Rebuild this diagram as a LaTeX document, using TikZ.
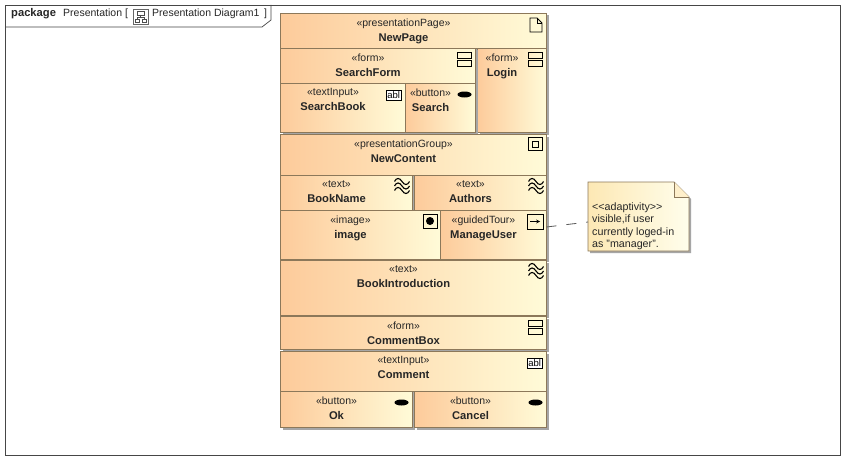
\documentclass[tikz,border=0pt]{standalone}
\usepackage{fontspec}
\setmainfont{Liberation Sans}
\usetikzlibrary{shapes,positioning,shadows,calc}
\definecolor{boxleft}{RGB}{253, 203, 155}
\definecolor{boxright}{RGB}{255, 251, 216}
\definecolor{noteleft}{RGB}{253, 232, 180}
\definecolor{noteright}{RGB}{255, 254, 236}
\definecolor{boxline}{RGB}{140, 120, 90}
\definecolor{frameline}{RGB}{70, 70, 70}
\tikzstyle{pagebox} = [
    rectangle,
    anchor=north west,
    outer sep=0pt,
    draw=boxline,
    line width=0.8pt,
    left color=boxleft,
    right color=boxright,
    drop shadow={shadow xshift=2pt,shadow yshift=-2pt,fill=black!35,opacity=1}
]
\tikzstyle{boxlabel} = [
    anchor=north,
    align=center,
    inner sep=0pt,
    font=\fontsize{10.5}{15}\selectfont,
    text=black!85
]
\tikzstyle{tabtext} = [
    anchor=west,
    inner sep=0pt,
    font=\fontsize{10.5}{12}\selectfont,
    text=black!85
]
\tikzstyle{icon} = [
    draw=black,
    line width=0.8pt
]
\newcommand{\umlbox}[7]{
    \node[pagebox, minimum width=#4pt, minimum height=#5pt] (#1) at (#2-0.5,#3-0.5) {};
    \node[boxlabel] (#1Label) at ([xshift=-10pt,yshift=-5pt]#1.north) {«#6»\\\fontsize{11.2}{15}\selectfont\textbf{#7}};
}
\newcommand{\formicon}[1]{
    \begin{scope}[shift={(#1.north east)}]
        \draw[icon] (-18,4) rectangle (-4,10);
        \draw[icon] (-18,12) rectangle (-4,18);
    \end{scope}
}
\newcommand{\inputicon}[1]{
    \begin{scope}[shift={(#1.north east)}]
        \node[icon, fill=white, anchor=north east, inner sep=0pt, minimum width=15pt, minimum height=10pt, font=\fontsize{9.5}{9}\selectfont] (#1Icon) at (-4,6) {abl};
    \end{scope}
}
\newcommand{\buttonicon}[1]{
    \begin{scope}[shift={(#1.north east)}]
        \fill[black] (-11,11) ellipse (7pt and 3pt);
    \end{scope}
}
\newcommand{\texticon}[1]{
    \begin{scope}[shift={(#1.north east)}]
        \foreach \wavey in {6,10.5,15} {
            \draw[black, line width=1.1pt] (-18,\wavey) .. controls (-16,\wavey-4) and (-13,\wavey-4) .. (-10.5,\wavey) .. controls (-8,\wavey+4) and (-5,\wavey+4) .. (-3,\wavey);
        }
    \end{scope}
}
\begin{document}
\begin{tikzpicture}[x=1pt,y=-1pt]
    \useasboundingbox (0,0) rectangle (845,460);
    \fill[white] (0,0) rectangle (845,460);

    % frame and tab
    \node[draw=frameline, line width=0.7pt, anchor=north west, outer sep=0pt, minimum width=835pt, minimum height=450pt] (frame) at (5,5) {};
    \coordinate (tabBottom) at (5,27);
    \coordinate (tabTop) at (271,5);
    \draw[frameline, line width=0.7pt] (tabBottom) -- (262,27) -- (271,20) -- (tabTop);
    \node[tabtext, font=\fontsize{11.2}{12}\selectfont] (tabPackage) at (11,14) {\textbf{package}};
    \node[tabtext] (tabName) at (63,14) {Presentation [};
    \node[tabtext] (tabDiagram) at (152,14) {Presentation Diagram1 };
    \node[tabtext] (tabClose) at (264,14) {]};
    \node[draw=black!60, line width=0.6pt, minimum width=15pt, minimum height=15pt, inner sep=0pt, anchor=north west] (tabIcon) at (133,9) {};
    \draw[black!70, line width=0.6pt] (137,11) rectangle (144,15);
    \draw[black!70, line width=0.6pt] (135,19) rectangle (139,22);
    \draw[black!70, line width=0.6pt] (142,19) rectangle (146,22);
    \draw[black!70, line width=0.6pt] (140.5,15) -- (140.5,17) (137,19) -- (137,17) -- (144,17) -- (144,19);

    % boxes, top to bottom
    \umlbox{newPage}{281}{14}{266}{35}{presentationPage}{NewPage}
    \umlbox{login}{478}{49}{69}{84}{form}{Login}
    \umlbox{searchForm}{281}{49}{195}{35}{form}{SearchForm}
    \umlbox{searchBook}{281}{84}{125}{49}{textInput}{SearchBook}
    \umlbox{search}{406}{84}{70}{49}{button}{Search}
    \umlbox{newContent}{281}{135}{266}{41}{presentationGroup}{NewContent}
    \umlbox{bookName}{281}{176}{132}{35}{text}{BookName}
    \umlbox{authors}{415}{176}{132}{35}{text}{Authors}
    \umlbox{image}{281}{211}{160}{49}{image}{image}
    \umlbox{manageUser}{441}{211}{106}{49}{guidedTour}{ManageUser}
    \umlbox{bookIntro}{281}{261}{266}{55}{text}{BookIntroduction}
    \umlbox{commentBox}{281}{317}{266}{33}{form}{CommentBox}
    \umlbox{comment}{281}{352}{266}{40}{textInput}{Comment}
    \umlbox{ok}{281}{392}{132}{36}{button}{Ok}
    \umlbox{cancel}{415}{392}{132}{36}{button}{Cancel}

    % icons
    \draw[icon] (530,18) -- (537,18) -- (542,23) -- (542,32) -- (530,32) -- cycle;
    \draw[icon] (537,18) -- (537,23) -- (542,23);
    \formicon{searchForm}
    \formicon{login}
    \formicon{commentBox}
    \inputicon{searchBook}
    \inputicon{comment}
    \buttonicon{search}
    \buttonicon{ok}
    \buttonicon{cancel}
    \texticon{bookName}
    \texticon{authors}
    \texticon{bookIntro}
    \draw[icon] (528,137.5) rectangle (542,150.5);
    \draw[icon] (532,141) rectangle (538,147);
    \draw[icon] (423,214) rectangle (437,228);
    \fill[black] (430,221) circle (4pt);
    \draw[icon] (527,214) rectangle (543,229);
    \draw[black, line width=0.7pt, ->, >=stealth] (530,221.5) -- (540,221.5);

    % note
    \node[anchor=north west, outer sep=0pt, minimum width=101pt, minimum height=69pt] (note) at (588,182) {};
    \fill[black!35] ([shift={(2pt,-2pt)}]note.north west) -- ++(86,0) -- ++(15,15) -- ++(0,54) -- ++(-101,0) -- cycle;
    \draw[boxline, line width=0.8pt, left color=noteleft, right color=noteright] (note.north west) -- ++(86,0) -- ++(15,15) -- (note.south east) -- (note.south west) -- cycle;
    \draw[boxline, line width=0.8pt, fill=noteleft!70] ($(note.north east)+(-15,0)$) -- ++(0,15) -- ++(15,0);
    \node[anchor=north west, align=left, inner sep=0pt, font=\fontsize{10.7}{12.3}\selectfont, text=black!85] (noteText) at (592,202.5) {<{}<adaptivity>{}>\\visible,if user\\currently loged-in\\as "manager".};
    \draw[black!65, line width=0.8pt, dash pattern=on 10pt off 10pt] (manageUser.east |- 0,227) -- (note.west |- 0,222);
\end{tikzpicture}
\end{document}
